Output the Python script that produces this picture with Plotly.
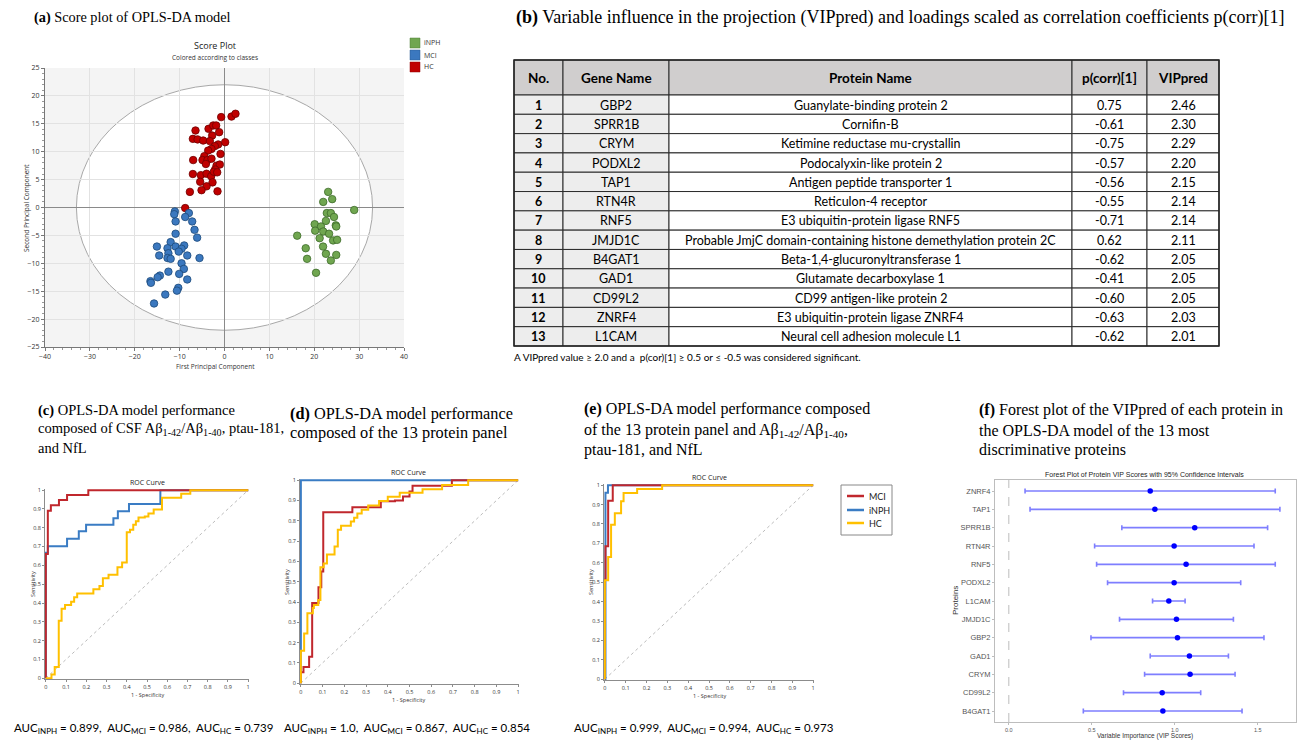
import plotly.graph_objects as go

W, H = 1298, 742

def px(x):
    return x / W

def py(y):
    return 1 - y / H

# ---------------- (a) score plot data ----------------
hc_x = [-0.74, 1.56, 2.45, -6.46, -3.56, -2.52, -1.86, -1.19, -2.75, -7.05, -6.0, -4.75, -3.27, 0.15,
        -1.41, -2.15, -2.9, -3.64, -0.89, -4.5, -6.98, -4.9, -3.8, -2.9, -4.15, -1.78, -1.04, -2.08,
        -7.05, -5.27, -4.0, -2.97, -2.37, -1.63, -5.42, -2.67, -4.0, -5.12, -7.72, -1.56, -8.76]
hc_y = [16.2, 16.3, 16.8, 13.8, 14.1, 14.7, 14.7, 13.5, 12.9, 12.3, 12.2, 12.0, 11.9, 11.7,
        11.3, 11.0, 10.5, 10.2, 9.6, 9.2, 8.5, 8.5, 8.5, 8.75, 7.8, 7.5, 7.7, 6.8,
        6.0, 5.8, 6.05, 5.6, 6.4, 6.3, 4.6, 4.5, 3.8, 3.1, 2.8, 2.9, -0.1]
mci_x = [-11.06, -11.2, -7.94, -8.76, -10.9, -7.2, -6.68, -10.9, -6.1, -15.06, -12.0, -12.7, -10.9,
         -8.98, -9.57, -10.2, -12.5, -14.55, -12.7, -12.0, -8.3, -5.57, -9.57, -9.05, -12.5, -10.1,
         -8.3, -14.4, -14.9, -16.5, -16.4, -10.3, -10.6, -13.2, -15.7]
mci_y = [-0.7, -1.2, -1.0, -1.7, -2.5, -2.5, -4.0, -4.7, -5.4, -7.0, -6.2, -7.3, -7.0,
         -6.8, -7.4, -7.9, -8.2, -8.6, -9.05, -9.2, -8.6, -9.05, -10.0, -11.0, -11.5, -11.9,
         -12.9, -12.2, -12.5, -13.2, -13.5, -14.4, -14.9, -15.6, -17.2]
inph_x = [23.1, 24.0, 22.0, 28.9, 22.8, 23.7, 24.4, 22.6, 20.1, 21.5, 24.8, 24.9, 20.2, 22.0,
          23.3, 16.2, 21.2, 24.2, 25.1, 21.96, 18.1, 18.4, 22.6, 24.9, 23.7, 20.4]
inph_y = [2.8, 1.5, 1.0, -0.45, -1.0, -1.0, -1.7, -2.4, -3.0, -3.4, -3.2, -3.4, -4.15, -4.3,
          -4.7, -5.05, -5.5, -5.9, -5.8, -7.0, -7.3, -9.2, -8.3, -8.5, -9.5, -11.7]
ellipse_rx = 33
ellipse_ry = 22

# ---------------- (b) table data ----------------
tbl_header = ["No.", "Gene Name", "Protein Name", "p(corr)[1]", "VIPpred"]
tbl_no = list(range(1, 14))
tbl_gene = ["GBP2", "SPRR1B", "CRYM", "PODXL2", "TAP1", "RTN4R", "RNF5", "JMJD1C", "B4GAT1",
            "GAD1", "CD99L2", "ZNRF4", "L1CAM"]
tbl_protein = ["Guanylate-binding protein 2", "Cornifin-B", "Ketimine reductase mu-crystallin",
               "Podocalyxin-like protein 2", "Antigen peptide transporter 1", "Reticulon-4 receptor",
               "E3 ubiquitin-protein ligase RNF5",
               "Probable JmjC domain-containing histone demethylation protein 2C",
               "Beta-1,4-glucuronyltransferase 1", "Glutamate decarboxylase 1",
               "CD99 antigen-like protein 2", "E3 ubiquitin-protein ligase ZNRF4",
               "Neural cell adhesion molecule L1"]
tbl_pcorr = [0.75, -0.61, -0.75, -0.57, -0.56, -0.55, -0.71, 0.62, -0.62, -0.41, -0.60, -0.63, -0.62]
tbl_vip = [2.46, 2.30, 2.29, 2.20, 2.15, 2.14, 2.14, 2.11, 2.05, 2.05, 2.05, 2.03, 2.01]

# ---------------- ROC data (fpr, tpr corner points) ----------------
chance_line = [0.0, 1.0]
roc_c = {
    "iNPH": ([0, 0, 0.01, 0.105, 0.163, 0.199, 0.334, 0.356, 0.411, 0.566, 1],
             [0, 0.667, 0.702, 0.742, 0.781, 0.816, 0.851, 0.888, 0.926, 1, 1]),
    "MCI": ([0, 0, 0.01, 0.025, 0.065, 0.105, 0.21, 1],
            [0, 0.66, 0.89, 0.92, 0.947, 0.974, 1, 1]),
    "HC": ([0, 0.028, 0.044, 0.064, 0.078, 0.095, 0.125, 0.14, 0.155, 0.235, 0.265, 0.282, 0.31,
            0.354, 0.377, 0.40, 0.40, 0.416, 0.432, 0.445, 0.458, 0.489, 0.507, 0.533, 0.574,
            0.669, 0.714, 1],
           [0, 0.02, 0.06, 0.305, 0.37, 0.39, 0.406, 0.43, 0.45, 0.473, 0.49, 0.531, 0.55,
            0.59, 0.615, 0.672, 0.776, 0.79, 0.816, 0.834, 0.855, 0.86, 0.876, 0.897, 0.96,
            0.981, 1, 1]),
}
roc_d = {
    "iNPH": ([0, 0, 1], [0, 1, 1]),
    "MCI": ([0, 0, 0.012, 0.038, 0.052, 0.081, 0.094, 0.103, 0.237, 0.368, 0.433, 0.47, 0.50,
             0.514, 0.695, 1],
            [0, 0.054, 0.08, 0.13, 0.395, 0.473, 0.55, 0.842, 0.867, 0.896, 0.90, 0.92, 0.945,
             0.973, 1, 1]),
    "HC": ([0, 0, 0.015, 0.03, 0.055, 0.06, 0.08, 0.09, 0.105, 0.12, 0.155, 0.17, 0.185, 0.23,
            0.245, 0.26, 0.28, 0.31, 0.36, 0.40, 0.455, 0.56, 0.65, 0.77, 1],
           [0, 0.16, 0.245, 0.345, 0.37, 0.385, 0.41, 0.571, 0.59, 0.634, 0.673, 0.756, 0.776,
            0.797, 0.815, 0.836, 0.855, 0.876, 0.898, 0.919, 0.938, 0.956, 0.977, 1, 1]),
}
roc_e = {
    "iNPH": ([0, 0.003, 0.015, 1], [0, 0.961, 1, 1]),
    "MCI": ([0, 0, 0.003, 0.016, 0.038, 1], [0, 0.513, 0.685, 0.92, 1, 1]),
    "HC": ([0, 0, 0.016, 0.03, 0.048, 0.078, 0.09, 0.155, 0.275, 1],
           [0, 0.51, 0.63, 0.796, 0.855, 0.917, 0.959, 0.98, 1, 1]),
}
roc_ticks = [0, 0.1, 0.2, 0.3, 0.4, 0.5, 0.6, 0.7, 0.8, 0.9, 1]
roc_ticklabels = ["0", "0.1", "0.2", "0.3", "0.4", "0.5", "0.6", "0.7", "0.8", "0.9", "1"]

# ---------------- (f) forest plot data ----------------
forest_proteins = ["ZNRF4", "TAP1", "SPRR1B", "RTN4R", "RNF5", "PODXL2", "L1CAM", "JMJD1C",
                   "GBP2", "GAD1", "CRYM", "CD99L2", "B4GAT1"]
forest_vip = [0.852, 0.880, 1.120, 0.996, 1.068, 0.996, 0.964, 1.010, 1.016, 1.088, 1.092, 0.924, 0.928]
forest_lo = [0.098, 0.128, 0.681, 0.517, 0.529, 0.595, 0.866, 0.667, 0.495, 0.852, 0.818, 0.691, 0.449]
forest_hi = [1.605, 1.633, 1.559, 1.477, 1.605, 1.397, 1.062, 1.353, 1.537, 1.323, 1.363, 1.156, 1.405]

# ---------------- colours / fonts ----------------
C_RED = "#c0272d"
C_BLUE = "#3a7cc4"
C_YEL = "#ffc000"
ROC_COL = {"MCI": C_RED, "iNPH": C_BLUE, "HC": C_YEL}

SERIF = "Liberation Serif"
SANS = "Lato"
SEGOE = "Open Sans"

fig = go.Figure()

# ---- score plot traces
for xs, ys, fill, edge in [(hc_x, hc_y, "#c00000", "#6e0000"),
                           (mci_x, mci_y, "#3b78bf", "#1d4a7a"),
                           (inph_x, inph_y, "#70a650", "#3e6b2a")]:
    fig.add_trace(go.Scatter(x=xs, y=ys, mode="markers", xaxis="x", yaxis="y", showlegend=False,
                             marker=dict(size=7.5, color=fill, line=dict(color=edge, width=0.8))))

# ---- ROC traces
for data, ax in [(roc_c, "2"), (roc_d, "3"), (roc_e, "4")]:
    fig.add_trace(go.Scatter(x=chance_line, y=chance_line, mode="lines", xaxis="x" + ax, yaxis="y" + ax,
                             showlegend=False, line=dict(color="#aaaaaa", width=0.8, dash="dot")))
    for key in ["iNPH", "MCI", "HC"]:
        xs, ys = data[key]
        fig.add_trace(go.Scatter(x=xs, y=ys, mode="lines", xaxis="x" + ax, yaxis="y" + ax,
                                 showlegend=False, line=dict(color=ROC_COL[key], width=2, shape="hv")))

# ---- forest plot
fig.add_trace(go.Scatter(
    x=forest_vip, y=forest_proteins, mode="markers", xaxis="x5", yaxis="y5", showlegend=False,
    marker=dict(size=5.5, color="#0000ff"),
    error_x=dict(type="data", symmetric=False,
                 array=[h - m for h, m in zip(forest_hi, forest_vip)],
                 arrayminus=[m - l for m, l in zip(forest_vip, forest_lo)],
                 color="rgba(40,40,255,0.6)", thickness=1.6, width=2.5)))

# ---------------- axes ----------------
def roc_axes(xd, yd, anchor_num):
    common = dict(showgrid=False, zeroline=False, showline=True, linecolor="#8c8c8c", linewidth=1,
                  ticks="outside", ticklen=2, tickcolor="#8c8c8c", automargin=False,
                  tickvals=roc_ticks, ticktext=roc_ticklabels,
                  tickfont=dict(family=SEGOE, size=5.5, color="#333333"))
    xa = dict(domain=xd, range=[-0.004, 1.004], anchor="y" + anchor_num, **common)
    ya = dict(domain=yd, range=[-0.004, 1.006], anchor="x" + anchor_num, **common)
    return xa, ya

xa2, ya2 = roc_axes([px(45), px(249)], [py(679), py(489)], "2")
xa3, ya3 = roc_axes([px(300), px(519)], [py(684), py(479)], "3")
xa4, ya4 = roc_axes([px(604), px(814)], [py(680), py(484)], "4")

fig.update_layout(
    width=W, height=H, autosize=False, margin=dict(l=0, r=0, t=0, b=0, pad=0, autoexpand=False),
    paper_bgcolor="white", plot_bgcolor="#f4f4f4", showlegend=False,
    xaxis=dict(domain=[px(45), px(404)], range=[-40, 40], dtick=10, anchor="y", automargin=False,
               showgrid=True, gridcolor="#e2e2e2", gridwidth=1, zeroline=True, zerolinecolor="#8a8a8a",
               zerolinewidth=1, showline=True, linecolor="#777777", linewidth=1,
               ticks="outside", ticklen=3, tickcolor="#777777",
               minor=dict(dtick=2, ticks="outside", ticklen=2, tickcolor="#999999", showgrid=False),
               tickfont=dict(family=SEGOE, size=7, color="#333333")),
    yaxis=dict(domain=[py(347), py(68)], range=[-25, 25], dtick=5, anchor="x", automargin=False,
               showgrid=True, gridcolor="#e2e2e2", gridwidth=1, zeroline=True, zerolinecolor="#8a8a8a",
               zerolinewidth=1, showline=True, linecolor="#777777", linewidth=1,
               ticks="outside", ticklen=3, tickcolor="#777777",
               minor=dict(dtick=1, ticks="outside", ticklen=2, tickcolor="#999999", showgrid=False),
               tickfont=dict(family=SEGOE, size=7, color="#333333")),
    xaxis2=xa2, yaxis2=ya2, xaxis3=xa3, yaxis3=ya3, xaxis4=xa4, yaxis4=ya4,
    xaxis5=dict(domain=[px(995), px(1296)], range=[-0.083, 1.73], anchor="y5", automargin=False,
                tickvals=[0, 0.5, 1.0, 1.5], ticktext=["0.0", "0.5", "1.0", "1.5"],
                showgrid=False, zeroline=False, showline=True, linecolor="#bdbdbd", linewidth=1,
                mirror=True, ticks="outside", ticklen=2, tickcolor="#bdbdbd",
                tickfont=dict(family="Liberation Sans", size=5.5, color="#555555")),
    yaxis5=dict(domain=[py(722), py(480)], range=[12.6, -0.6], anchor="x5", type="category",
                categoryorder="array", categoryarray=forest_proteins, automargin=False,
                showgrid=False, zeroline=False, showline=True, linecolor="#bdbdbd", linewidth=1,
                mirror=True, ticks="outside", ticklen=2, tickcolor="#bdbdbd",
                tickfont=dict(family="Liberation Sans", size=7.5, color="#555555")),
)

# white panels behind the ROC and forest plots
for ax in ["2", "3", "4", "5"]:
    fig.add_shape(type="rect", xref="x%s domain" % ax, yref="y%s domain" % ax, x0=0, x1=1, y0=0, y1=1,
                  fillcolor="white", line=dict(width=0), layer="below")

# ellipse (Hotelling T2)
fig.add_shape(type="circle", xref="x", yref="y", x0=-ellipse_rx, x1=ellipse_rx, y0=-ellipse_ry,
              y1=ellipse_ry, fillcolor="white", line=dict(color="#a8a8a8", width=1), layer="below")

# dashed zero line in forest plot
fig.add_shape(type="line", xref="x5", yref="y5 domain", x0=0, x1=0, y0=0, y1=1,
              line=dict(color="#c8c8c8", width=1.2, dash="dash"), layer="below")

# ---------------- annotations ----------------
anns = []

def ann(x, y, text, size, family=SANS, color="black", xanchor="left", yanchor="middle", angle=0,
        weight="normal"):
    anns.append(dict(x=px(x), y=py(y), xref="paper", yref="paper", text=text, showarrow=False,
                     xanchor=xanchor, yanchor=yanchor, textangle=angle, align="left",
                     font=dict(size=size, family=family, color=color, weight=weight)))

def title_block(x, ys, lines, size):
    for yy, t in zip(ys, lines):
        ann(x, yy, t, size, SERIF)

# ---------------- table (b) drawn as cells ----------------
col_edges = [514, 563, 669, 1072, 1147, 1219]
head_top, head_bot, tbl_bot = 60, 95, 346
row_h = (tbl_bot - head_bot) / len(tbl_no)
body_cols = [[str(v) for v in tbl_no], tbl_gene, tbl_protein,
             ["%.2f" % v for v in tbl_pcorr], ["%.2f" % v for v in tbl_vip]]
body_fill = ["#ededed", "#ededed", "white", "white", "white"]
for j in range(5):
    x0, x1 = col_edges[j], col_edges[j + 1]
    fig.add_shape(type="rect", xref="paper", yref="paper", x0=px(x0), x1=px(x1), y0=py(head_bot),
                  y1=py(head_top), fillcolor="#d0cece", line=dict(color="#2b2b2b", width=1))
    ann((x0 + x1) / 2, (head_top + head_bot) / 2 + 0.5, tbl_header[j], 13.5, SANS,
        xanchor="center", weight="bold")
    for i in range(len(tbl_no)):
        r0 = head_bot + i * row_h
        fig.add_shape(type="rect", xref="paper", yref="paper", x0=px(x0), x1=px(x1), y0=py(r0 + row_h),
                      y1=py(r0), fillcolor=body_fill[j], line=dict(color="#2b2b2b", width=1))
        ann((x0 + x1) / 2, r0 + row_h / 2 + 0.5, body_cols[j][i], 12.5, SANS, xanchor="center",
            weight="bold" if j == 0 else "normal")
# outer border
fig.add_shape(type="rect", xref="paper", yref="paper", x0=px(col_edges[0]), x1=px(col_edges[-1]),
              y0=py(tbl_bot), y1=py(head_top), fillcolor="rgba(0,0,0,0)", line=dict(color="#222222", width=1.5))

# panel titles (one annotation per line)
ab = "A\u03b2<sub>1-42</sub>/A\u03b2<sub>1-40</sub>"
title_block(32, [17], ["<b>(a)</b> Score plot of OPLS-DA model"], 14.3)
title_block(514, [17], ["<b>(b)</b> Variable influence in the projection (VIPpred) and loadings scaled as "
                        "correlation coefficients p(corr)[1]"], 18)
title_block(36, [410, 429, 448], ["<b>(c)</b> OPLS-DA model performance",
                                  "composed of CSF " + ab + ", ptau-181,", "and NfL"], 14.5)
title_block(288, [413, 432], ["<b>(d)</b> OPLS-DA model performance",
                              "composed of the 13 protein panel"], 16.3)
title_block(582, [409, 430, 450], ["<b>(e)</b> OPLS-DA model performance composed",
                                   "of the 13 protein panel and " + ab + ",", "ptau-181, and NfL"], 16)
title_block(977, [410, 430, 450], ["<b>(f)</b> Forest plot of the VIPpred of each protein in",
                                   "the OPLS-DA model of the 13 most", "discriminative proteins"], 16)

# score plot texts
ann(215, 45, "Score Plot", 9, SEGOE, "#222222", xanchor="center")
ann(215, 57, "Colored according to classes", 6.5, SEGOE, "#333333", xanchor="center")
ann(215, 366, "First Principal Component", 6.5, SEGOE, "#333333", xanchor="center")
ann(26, 208, "Second Principal Component", 6.5, SEGOE, "#333333", xanchor="center", angle=-90)
for yy, col, edge, lab in [(43, "#70a650", "#4f7f37", "iNPH"), (55, "#3b78bf", "#2a5a92", "MCI"),
                           (67, "#c00000", "#900000", "HC")]:
    fig.add_shape(type="rect", xref="paper", yref="paper", x0=px(410), x1=px(420), y0=py(yy + 5),
                  y1=py(yy - 5), fillcolor=col, line=dict(color=edge, width=0.5))
    ann(422, yy, lab, 7, SEGOE, "#333333")

# table note
ann(512, 357, "A VIPpred value \u2265 2.0 and a  p(cor)[1] \u2265 0.5 or \u2264 -0.5 was considered significant.",
    10, SANS)

# ROC texts
for cx, ty, yl_x, xl_y, yl_y in [(147, 482, 33, 695, 584), (409, 472, 287, 700, 582),
                                  (709, 477, 591, 696, 582)]:
    ann(cx, ty, "ROC Curve", 7, SEGOE, "#222222", xanchor="center")
    ann(cx, xl_y, "1 - Specificity", 5.5, SEGOE, "#333333", xanchor="center")
    ann(yl_x, yl_y, "Sensitivity", 5.5, SEGOE, "#333333", xanchor="center", angle=-90)

# ROC legend (box with line samples)
fig.add_shape(type="rect", xref="paper", yref="paper", x0=px(841), x1=px(892), y0=py(535), y1=py(485),
              line=dict(color="#888888", width=1), fillcolor="white")
for yy, key in [(496, "MCI"), (510, "iNPH"), (523, "HC")]:
    fig.add_shape(type="line", xref="paper", yref="paper", x0=px(847), x1=px(864), y0=py(yy), y1=py(yy),
                  line=dict(color=ROC_COL[key], width=2.5))
    ann(867, yy, key, 9, SANS, "#222222")

# AUC texts
auc_texts = [
    (12, "AUC<sub>INPH</sub> = 0.899,  AUC<sub>MCI</sub> = 0.986,  AUC<sub>HC</sub> = 0.739"),
    (282, "AUC<sub>INPH</sub> = 1.0,  AUC<sub>MCI</sub> = 0.867,  AUC<sub>HC</sub> = 0.854"),
    (572, "AUC<sub>INPH</sub> = 0.999,  AUC<sub>MCI</sub> = 0.994,  AUC<sub>HC</sub> = 0.973"),
]
for x0, t in auc_texts:
    ann(x0, 728, t, 11.5, SANS)

# forest texts
ann(1144, 474, "Forest Plot of Protein VIP Scores with 95% Confidence Intervals", 7, "Liberation Sans",
    "#222222", xanchor="center")
ann(955, 601, "Proteins", 8, "Liberation Sans", "#333333", xanchor="center", angle=-90)
ann(1145, 736, "Variable Importance (VIP Scores)", 6.5, "Liberation Sans", "#333333", xanchor="center")

fig.update_layout(annotations=anns)
fig.write_html("out.html", config={"displayModeBar": False},
               post_script="document.body.style.margin='0';document.body.style.overflow='hidden';")
